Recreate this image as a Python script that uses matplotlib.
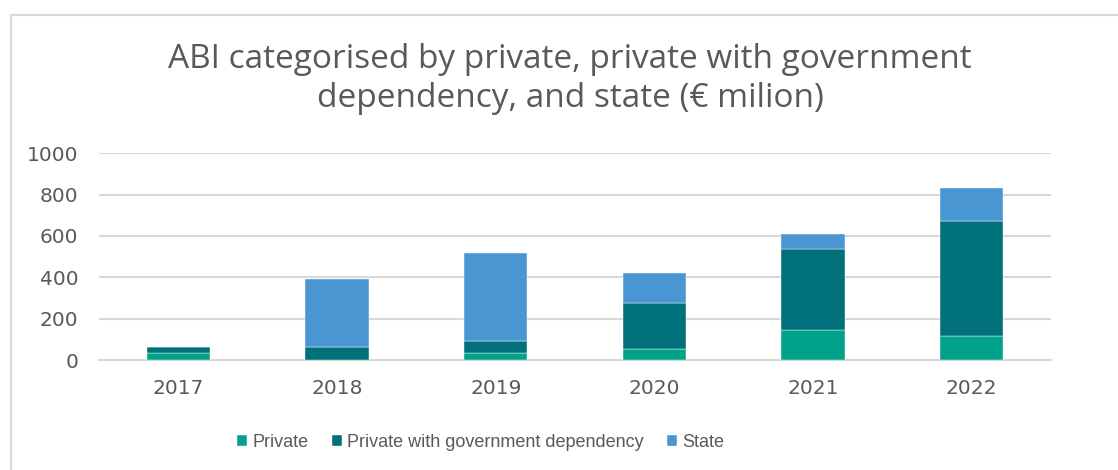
import matplotlib
matplotlib.use("Agg")
import matplotlib.pyplot as plt
from matplotlib.patches import Rectangle
import numpy as np

years = ["2017", "2018", "2019", "2020", "2021", "2022"]
private = [35, 0, 34, 53, 146, 114]
private_gov = [28, 63, 59, 225, 390, 556]
state = [0, 329, 423, 145, 71, 164]

series_names = ["Private", "Private with government dependency", "State"]
colors = ["#00A38A", "#00717A", "#4A96D2"]

text_gray = "#595959"
grid_gray = "#D9D9D9"

fig = plt.figure(figsize=(11.18, 4.70), dpi=100)
ax = fig.add_axes([0.0886, 0.234, 0.8515, 0.440])

x = np.arange(len(years))
bottom = np.zeros(len(years))
for vals, name, col in zip([private, private_gov, state], series_names, colors):
    ax.bar(x, vals, width=0.4, bottom=bottom, color=col, label=name,
           edgecolor="white", linewidth=0.3, zorder=3)
    bottom += np.array(vals)

ax.set_xlim(-0.5, len(years) - 0.5)
ax.set_ylim(0, 1000)
ax.set_yticks(range(0, 1001, 200))
ax.set_xticks(x)
ax.set_xticklabels(years)
ax.yaxis.grid(True, color=grid_gray, linewidth=1.5, zorder=0)
ax.set_axisbelow(True)
for side in ["top", "right", "left"]:
    ax.spines[side].set_visible(False)
ax.spines["bottom"].set_color(grid_gray)
ax.spines["bottom"].set_linewidth(1.5)
ax.tick_params(axis="both", length=0, colors=text_gray, labelsize=14.5,
               labelfontfamily="DejaVu Sans")
ax.tick_params(axis="y", pad=15)
ax.tick_params(axis="x", pad=14)

fig.text(0.51, 0.832, "ABI categorised by private, private with government\n"
         "dependency, and state (€ milion)", ha="center", va="center",
         fontsize=24, color=text_gray, family="Open Sans", linespacing=1.25)

leg = fig.legend(loc="center", bbox_to_anchor=(0.43, 0.058), ncol=3, frameon=False,
                 handlelength=0.55, handleheight=0.55, handletextpad=0.3,
                 columnspacing=1.3, prop={"family": "Liberation Sans", "size": 13})
for t in leg.get_texts():
    t.set_color(text_gray)

fig.add_artist(Rectangle((11 / 1118, -0.1), 1.2, 1.1 - 15 / 470,
                         transform=fig.transFigure, fill=False,
                         edgecolor=grid_gray, linewidth=1.5))

fig.savefig("out.png", dpi=100, facecolor="white")
